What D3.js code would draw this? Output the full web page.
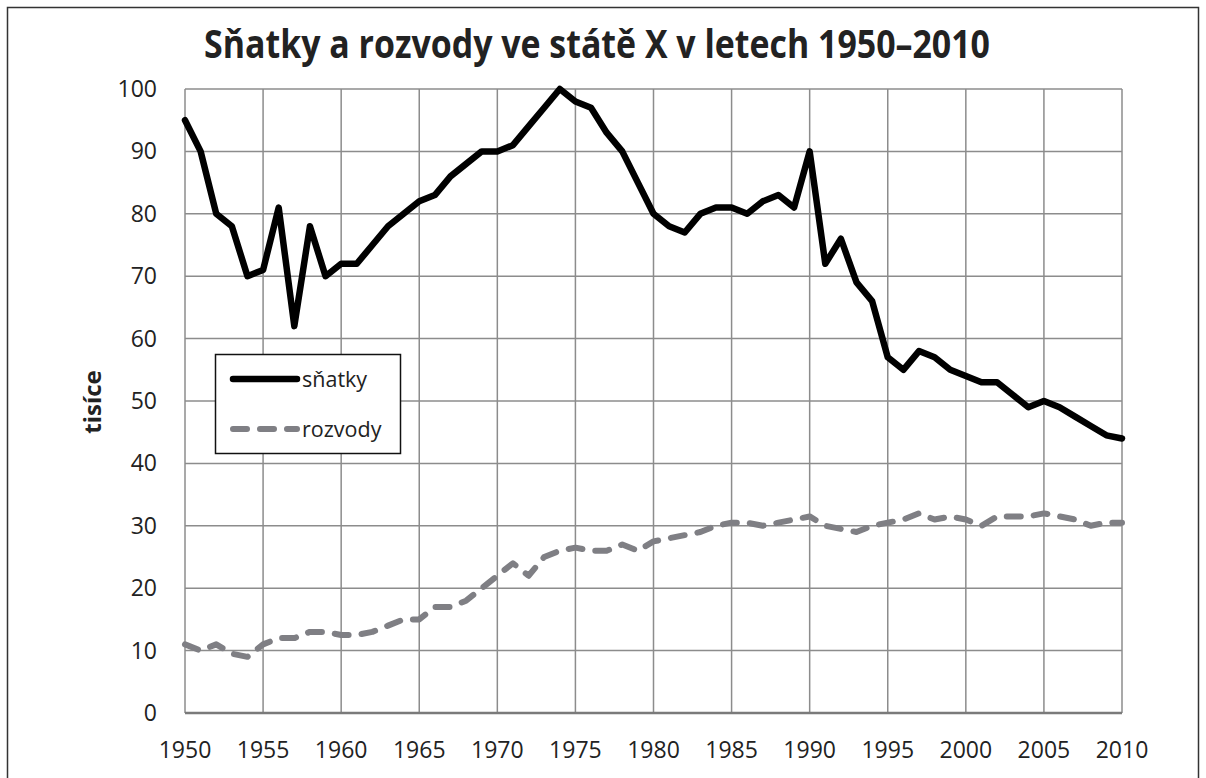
<!DOCTYPE html>
<html>
<head>
<meta charset="utf-8">
<script src="https://cdn.jsdelivr.net/npm/d3@7"></script>
<style>
  body { margin: 0; background: #fff; }
  svg { display: block; }
  text { font-family: "Open Sans", "Noto Sans", sans-serif; fill: #222; }
</style>
</head>
<body>
<svg width="1206" height="778"></svg>
<script>
const years = d3.range(1950, 2011);

// sňatky (tisíce)
const snatky = [95, 90, 80, 78, 70, 71, 81, 62, 78, 70,
  72, 72, 75, 78, 80, 82, 83, 86, 88, 90,
  90, 91, 94, 97, 100, 98, 97, 93, 90, 85,
  80, 78, 77, 80, 81, 81, 80, 82, 83, 81,
  90, 72, 76, 69, 66, 57, 55, 58, 57, 55,
  54, 53, 53, 51, 49, 50, 49, 47.5, 46, 44.5,
  44];

// rozvody (tisíce)
const rozvody = [11, 10, 11, 9.5, 9, 11, 12, 12, 13, 13,
  12.5, 12.5, 13, 14, 15, 15, 17, 17, 18, 20,
  22, 24, 22, 25, 26, 26.5, 26, 26, 27, 26,
  27.5, 28, 28.5, 29, 30, 30.5, 30.5, 30, 30.5, 31,
  31.5, 30, 29.5, 29, 30, 30.5, 31, 32, 31, 31.5,
  31, 30, 31.5, 31.5, 31.5, 32, 31.5, 31, 30, 30.5,
  30.5];

const xTicks = d3.range(1950, 2011, 5);
const yTicks = d3.range(0, 101, 10);

const svg = d3.select('svg');

// rámeček
svg.append('rect')
  .attr('x', 7.5).attr('y', 7.5)
  .attr('width', 1191).attr('height', 780)
  .attr('fill', 'none')
  .attr('stroke', '#333')
  .attr('stroke-width', 1.5);

const x = d3.scaleLinear().domain([1950, 2010]).range([185, 1122]);
const y = d3.scaleLinear().domain([0, 100]).range([713, 89]);

// mřížka
svg.append('g')
  .selectAll('line')
  .data(yTicks)
  .join('line')
  .attr('x1', x(1950)).attr('x2', x(2010))
  .attr('y1', d => y(d)).attr('y2', d => y(d))
  .attr('stroke', '#8c8c8c')
  .attr('stroke-width', 1.5);

svg.append('g')
  .selectAll('line')
  .data(xTicks)
  .join('line')
  .attr('x1', d => x(d)).attr('x2', d => x(d))
  .attr('y1', y(0)).attr('y2', y(100))
  .attr('stroke', '#8c8c8c')
  .attr('stroke-width', 1.5);

// osa x
svg.append('line')
  .attr('x1', x(1950)).attr('x2', x(2010))
  .attr('y1', y(0)).attr('y2', y(0))
  .attr('stroke', '#7a7a7a')
  .attr('stroke-width', 2.5);

// popisky os
svg.append('g')
  .selectAll('text')
  .data(yTicks)
  .join('text')
  .attr('x', 157)
  .attr('y', d => y(d))
  .attr('dy', '0.35em')
  .attr('text-anchor', 'end')
  .attr('font-size', 23)
  .text(d => d);

svg.append('g')
  .selectAll('text')
  .data(xTicks)
  .join('text')
  .attr('x', d => x(d))
  .attr('y', 758)
  .attr('text-anchor', 'middle')
  .attr('font-size', 23)
  .text(d => d);

svg.append('text')
  .attr('transform', 'translate(101,402) rotate(-90)')
  .attr('text-anchor', 'middle')
  .attr('font-size', 24)
  .attr('font-weight', 'bold')
  .text('tisíce');

// nadpis
svg.append('text')
  .attr('x', 204)
  .attr('y', 58)
  .attr('font-size', 39)
  .attr('font-weight', 'bold')
  .attr('textLength', 786)
  .attr('lengthAdjust', 'spacingAndGlyphs')
  .text('Sňatky a rozvody ve státě X v letech 1950–2010');

// křivky
const line = d3.line()
  .x((d, i) => x(years[i]))
  .y(d => y(d));

svg.append('path')
  .datum(rozvody)
  .attr('d', line)
  .attr('fill', 'none')
  .attr('stroke', '#7f7f84')
  .attr('stroke-width', 6)
  .attr('stroke-linecap', 'round')
  .attr('stroke-linejoin', 'round')
  .attr('stroke-dasharray', '14 13');

svg.append('path')
  .datum(snatky)
  .attr('d', line)
  .attr('fill', 'none')
  .attr('stroke', '#000')
  .attr('stroke-width', 6.5)
  .attr('stroke-linecap', 'round')
  .attr('stroke-linejoin', 'round');

// legenda
const legend = svg.append('g');
legend.append('rect')
  .attr('x', 215.5).attr('y', 354.5)
  .attr('width', 185).attr('height', 99)
  .attr('fill', '#fff')
  .attr('stroke', '#111')
  .attr('stroke-width', 1.5);

legend.append('line')
  .attr('x1', 233).attr('x2', 297)
  .attr('y1', 379).attr('y2', 379)
  .attr('stroke', '#000')
  .attr('stroke-width', 6.5)
  .attr('stroke-linecap', 'round');
legend.append('text')
  .attr('x', 302).attr('y', 379)
  .attr('dy', '0.35em')
  .attr('font-size', 21.5)
  .text('sňatky');

legend.append('line')
  .attr('x1', 233).attr('x2', 297)
  .attr('y1', 429).attr('y2', 429)
  .attr('stroke', '#7f7f84')
  .attr('stroke-width', 6)
  .attr('stroke-linecap', 'round')
  .attr('stroke-dasharray', '14 13');
legend.append('text')
  .attr('x', 302).attr('y', 429)
  .attr('dy', '0.35em')
  .attr('font-size', 21.5)
  .text('rozvody');
</script>
</body>
</html>
